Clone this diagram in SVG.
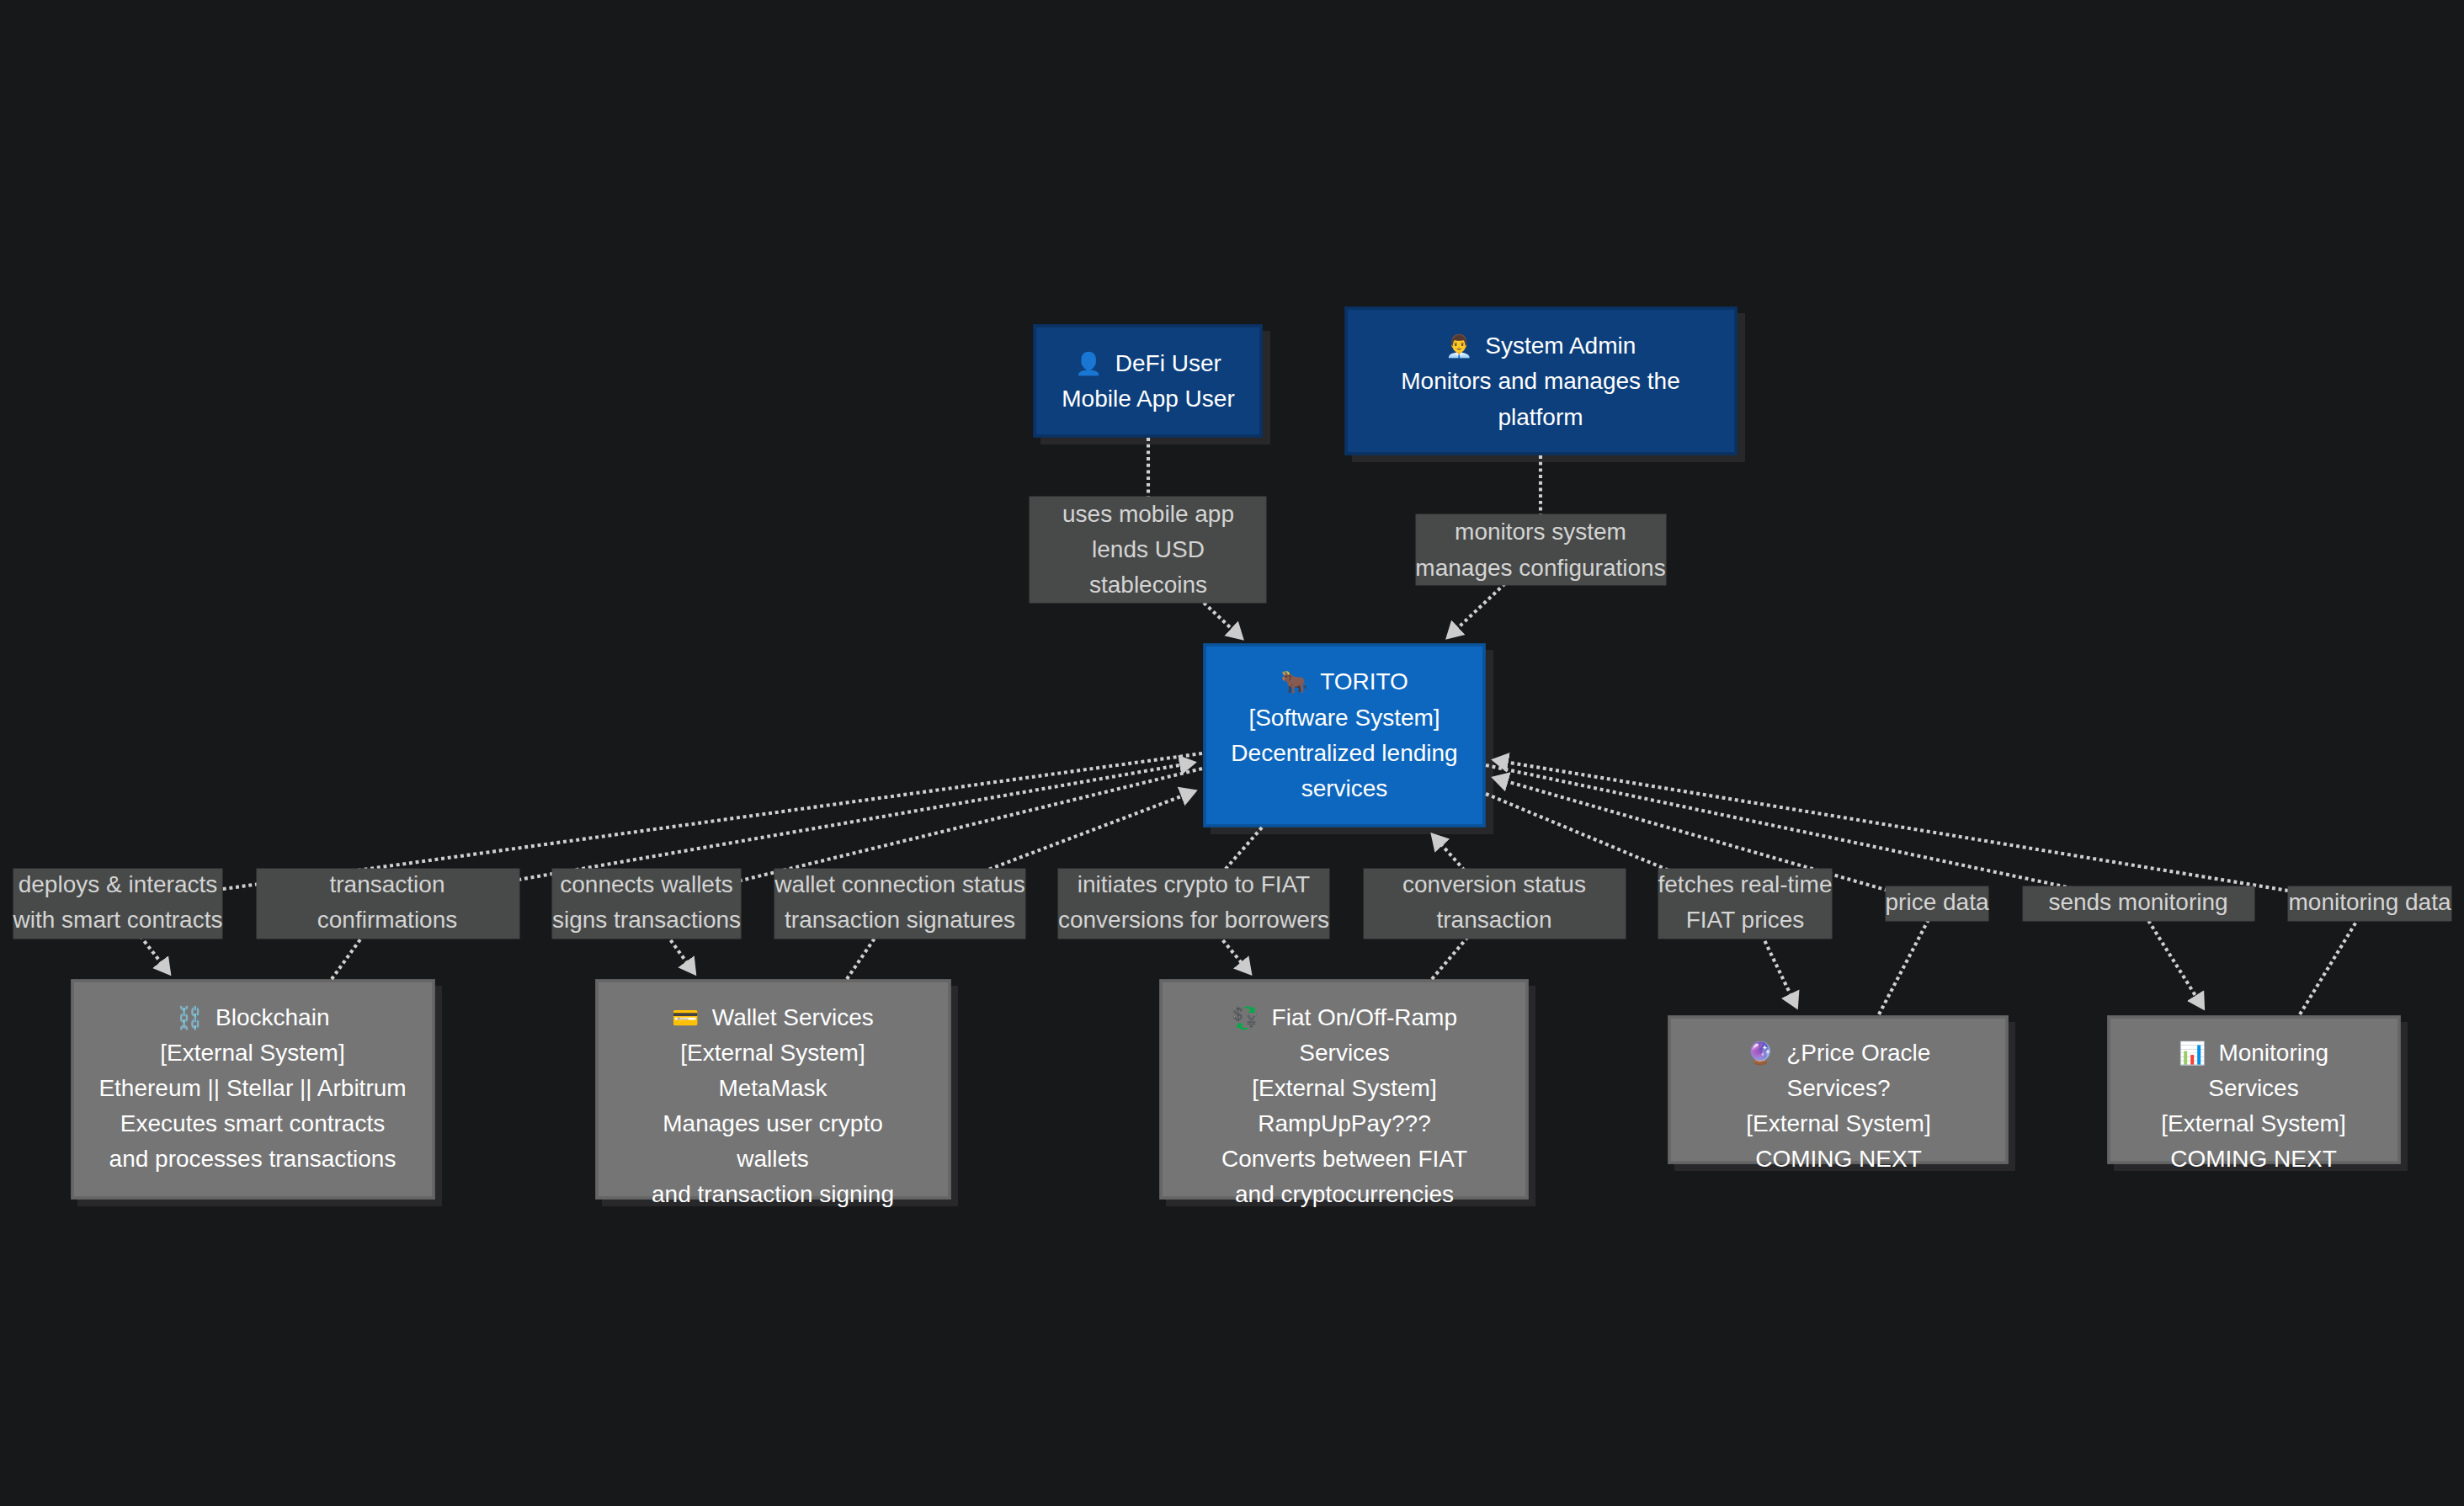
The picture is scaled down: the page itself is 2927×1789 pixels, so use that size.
<svg xmlns="http://www.w3.org/2000/svg" width="2927" height="1789" viewBox="0 0 2927 1789">
<style>
text{font-family:"Liberation Sans",Arial,"Noto Sans CJK SC",sans-serif;font-size:28px;text-anchor:middle;white-space:pre}
.n{fill:#fff}.l{fill:#d4d4d4}
.i{font-size:26px}
.s{fill:#28282a}
.u{fill:#0d3f7d;stroke:#0a3263;stroke-width:3.73}
.t{fill:#0d67bf;stroke:#0b5299;stroke-width:3.73}
.x{fill:#757575;stroke:#666;stroke-width:3.73}
.b{fill:#484a49;stroke:#444;stroke-width:1}
.e{fill:none;stroke:#d0d0d0;stroke-width:4.1;stroke-dasharray:3.9 3.8;marker-end:url(#a)}
</style>
<defs><marker id="a" markerUnits="userSpaceOnUse" markerWidth="21" markerHeight="25" refX="17" refY="12" orient="auto" viewBox="0 0 21 24"><path d="M0,0L21,12L0,24z" fill="#ccc"/></marker></defs>
<rect width="2927" height="1789" fill="#17181a"/>
<g id="user"><rect class="s" x="1236" y="393" width="273" height="135"/><rect class="u" x="1229" y="387" width="269" height="131"/><text class="n" x="1364" y="441"><tspan class="i">👤</tspan>  DeFi User</text><text class="n" x="1364" y="483">Mobile App User</text></g>
<g id="admin"><rect class="s" x="1606" y="372" width="467" height="177"/><rect class="u" x="1599" y="366" width="463" height="173"/><text class="n" x="1830" y="420"><tspan class="i">👨‍💼</tspan>  System Admin</text><text class="n" x="1830" y="462">Monitors and manages the</text><text class="n" x="1830" y="505">platform</text></g>
<g id="torito"><rect class="s" x="1438" y="772" width="336" height="219"/><rect class="t" x="1431" y="766" width="332" height="215"/><text class="n" x="1597" y="819"><tspan class="i">🐂</tspan>  TORITO</text><text class="n" x="1597" y="862">[Software System]</text><text class="n" x="1597" y="904">Decentralized lending</text><text class="n" x="1597" y="946">services</text></g>
<g id="blockchain"><rect class="s" x="92" y="1171" width="433" height="262"/><rect class="x" x="86" y="1165" width="429" height="258"/><text class="n" x="300" y="1218"><tspan class="i">⛓️</tspan>  Blockchain</text><text class="n" x="300" y="1260">[External System]</text><text class="n" x="300" y="1302">Ethereum || Stellar || Arbitrum</text><text class="n" x="300" y="1344">Executes smart contracts</text><text class="n" x="300" y="1386">and processes transactions</text></g>
<g id="wallet"><rect class="s" x="715" y="1171" width="423" height="262"/><rect class="x" x="709" y="1165" width="419" height="258"/><text class="n" x="918" y="1218"><tspan class="i">💳</tspan>  Wallet Services</text><text class="n" x="918" y="1260">[External System]</text><text class="n" x="918" y="1302">MetaMask</text><text class="n" x="918" y="1344">Manages user crypto</text><text class="n" x="918" y="1386">wallets</text><text class="n" x="918" y="1428">and transaction signing</text></g>
<g id="fiat"><rect class="s" x="1385" y="1171" width="439" height="262"/><rect class="x" x="1379" y="1165" width="435" height="258"/><text class="n" x="1597" y="1218"><tspan class="i">💱</tspan>  Fiat On/Off-Ramp</text><text class="n" x="1597" y="1260">Services</text><text class="n" x="1597" y="1302">[External System]</text><text class="n" x="1597" y="1344">RampUpPay???</text><text class="n" x="1597" y="1386">Converts between FIAT</text><text class="n" x="1597" y="1428">and cryptocurrencies</text></g>
<g id="oracle"><rect class="s" x="1989" y="1214" width="405" height="177"/><rect class="x" x="1983" y="1208" width="401" height="173"/><text class="n" x="2184" y="1260"><tspan class="i">🔮</tspan>  ¿Price Oracle</text><text class="n" x="2184" y="1302">Services?</text><text class="n" x="2184" y="1344">[External System]</text><text class="n" x="2184" y="1386">COMING NEXT</text></g>
<g id="monitoring"><rect class="s" x="2511" y="1214" width="349" height="177"/><rect class="x" x="2505" y="1208" width="345" height="173"/><text class="n" x="2677" y="1260"><tspan class="i">📊</tspan>  Monitoring</text><text class="n" x="2677" y="1302">Services</text><text class="n" x="2677" y="1344">[External System]</text><text class="n" x="2677" y="1386">COMING NEXT</text></g>
<g id="connectors">
<path class="e" d="M1364,520L1364,589L1364,650L1430,716L1475,758"/>
<path class="e" d="M1830,541L1830,611L1830,650L1787,694L1720,757"/>
<path class="e" d="M1428,895L265,1056L140,1073L169,1115L201,1156"/>
<path class="e" d="M394,1163L428,1116L460,1073L616,1045L1418,906"/>
<path class="e" d="M1428,913L880,1046L768,1073L796,1116L825,1156"/>
<path class="e" d="M1006,1163L1038,1116L1069,1073L1237,1009L1419,940"/>
<path class="e" d="M1499,983L1456,1032L1418,1073L1451,1115L1485,1156"/>
<path class="e" d="M1701,1163L1742,1115L1775,1073L1738,1032L1702,992"/>
<path class="e" d="M1765,943L1973,1030L2073,1073L2096,1117L2134,1196"/>
<path class="e" d="M2232,1205L2290,1094L2300,1073L2240,1057L1775,924"/>
<path class="e" d="M1765,909L2447,1052L2540,1073L2553,1095L2617,1197"/>
<path class="e" d="M2732,1205L2799,1095L2815,1073L2718,1058L1775,903"/>
</g>
<g id="labels">
<g><rect class="b" x="1223" y="590" width="281" height="126"/><text class="l" x="1364" y="620">uses mobile app</text><text class="l" x="1364" y="662">lends USD</text><text class="l" x="1364" y="704">stablecoins</text></g>
<g><rect class="b" x="1682" y="611" width="297" height="84"/><text class="l" x="1830" y="641">monitors system</text><text class="l" x="1830" y="684">manages configurations</text></g>
<g><rect class="b" x="16" y="1032" width="248" height="83"/><text class="l" x="140" y="1060">deploys &amp; interacts</text><text class="l" x="140" y="1102">with smart contracts</text></g>
<g><rect class="b" x="305" y="1032" width="312" height="83"/><text class="l" x="460" y="1060">transaction</text><text class="l" x="460" y="1102">confirmations</text></g>
<g><rect class="b" x="656" y="1032" width="224" height="83"/><text class="l" x="768" y="1060">connects wallets</text><text class="l" x="768" y="1102">signs transactions</text></g>
<g><rect class="b" x="920" y="1032" width="298" height="83"/><text class="l" x="1069" y="1060">wallet connection status</text><text class="l" x="1069" y="1102">transaction signatures</text></g>
<g><rect class="b" x="1257" y="1032" width="322" height="83"/><text class="l" x="1418" y="1060">initiates crypto to FIAT</text><text class="l" x="1418" y="1102">conversions for borrowers</text></g>
<g><rect class="b" x="1620" y="1032" width="311" height="83"/><text class="l" x="1775" y="1060">conversion status</text><text class="l" x="1775" y="1102">transaction</text></g>
<g><rect class="b" x="1970" y="1032" width="206" height="83"/><text class="l" x="2073" y="1060">fetches real-time</text><text class="l" x="2073" y="1102">FIAT prices</text></g>
<g><rect class="b" x="2240" y="1053" width="122" height="41"/><text class="l" x="2301" y="1081">price data</text></g>
<g><rect class="b" x="2403" y="1053" width="275" height="41"/><text class="l" x="2540" y="1081">sends monitoring</text></g>
<g><rect class="b" x="2718" y="1053" width="194" height="41"/><text class="l" x="2815" y="1081">monitoring data</text></g>
</g>
</svg>
